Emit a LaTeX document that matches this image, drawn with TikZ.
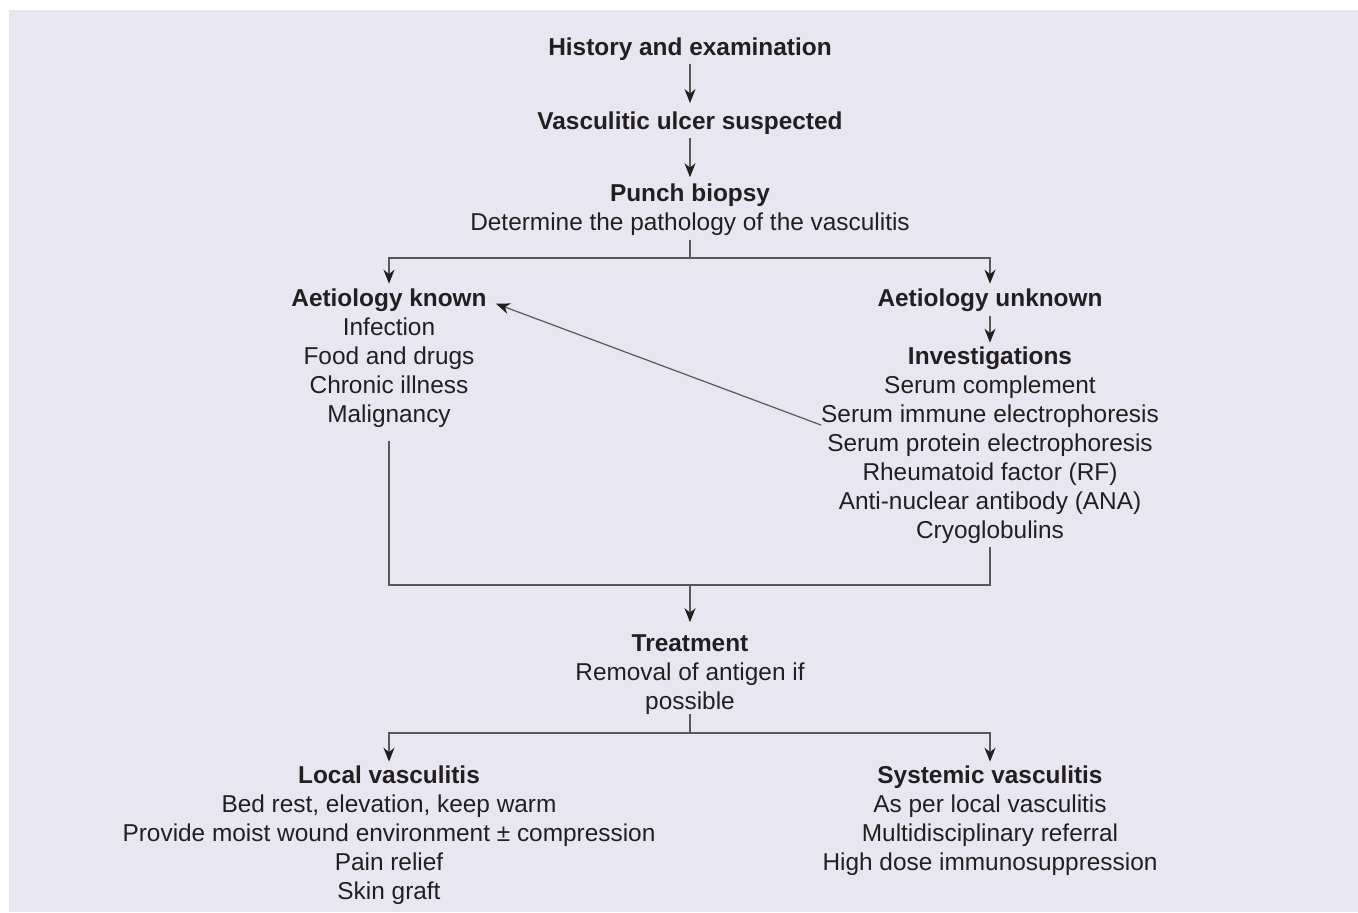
\documentclass[tikz,border=0pt]{standalone}
\usepackage{fontspec}
\setmainfont{Liberation Sans}
\usetikzlibrary{arrows.meta,positioning}

\definecolor{bgpanel}{RGB}{232,230,241}
\definecolor{ink}{RGB}{35,31,32}
\definecolor{wire}{RGB}{88,88,90}

\tikzset{
  txt/.style={inner sep=0pt, outer sep=0pt, align=center, text=ink, anchor=north,
    font=\fontsize{12.2}{14.5}\selectfont,
    execute at begin node=\strut, execute at end node=\strut},
  ttl/.style={txt, font=\fontsize{12.2}{14.5}\selectfont\bfseries},
  wire/.style={draw=wire, line width=0.6pt},
  arr/.style={wire, -{Stealth[length=7pt,width=5.5pt,inset=2.2pt,color=ink]}}
}

\begin{document}
\begin{tikzpicture}[x=0.5pt,y=-0.5pt]
        \useasboundingbox (0,0) rectangle (1358,912);
        \fill[bgpanel] (9,10) rectangle (1358,912);

        % main column
        \node[ttl] (hist) at (690,34.7) {History and examination};
        \node[ttl] (susp) at (690,108.7) {Vasculitic ulcer suspected};
        \node[txt] (biopsy) at (690,184.2)
              {\textbf{Punch biopsy}\\Determine the pathology of the vasculitis};

        % two branches
        \node[ttl] (known) at (389,285.7) {Aetiology known};
        \node[txt] (causes) at (389,317.7)
              {Infection\\Food and drugs\\Chronic illness\\Malignancy};
        \node[ttl] (unknown) at (990,285.7) {Aetiology unknown};
        \node[txt] (invest) at (990,346.7)
              {\textbf{Investigations}\\Serum complement\\Serum immune electrophoresis\\
               Serum protein electrophoresis\\Rheumatoid factor (RF)\\
               Anti-nuclear antibody (ANA)\\Cryoglobulins};

        \node[txt] (treat) at (690,634.2)
              {\textbf{Treatment}\\Removal of antigen if\\possible};
        \node[txt] (local) at (389,765.7)
              {\textbf{Local vasculitis}\\Bed rest, elevation, keep warm\\
               Provide moist wound environment ± compression\\Pain relief\\Skin graft};
        \node[txt] (systemic) at (990,765.7)
              {\textbf{Systemic vasculitis}\\As per local vasculitis\\
               Multidisciplinary referral\\High dose immunosuppression};

        \coordinate (split) at (690,258);
        \coordinate (merge) at (690,585);
        \coordinate (fork) at (690,733);
        \coordinate (crosslink) at (821,425);

        \draw[arr, shorten >=2.8pt] (hist.south) -- (susp.north);
        \draw[arr, shorten >=3.5pt] (susp.south) -- (biopsy.north);

        \draw[wire] (biopsy.south) -- (split);
        \draw[arr, shorten >=1pt] (split) -| (known.north);
        \draw[arr, shorten >=1pt] (split) -| (unknown.north);
        \draw[arr, shorten <=0.5pt, shorten >=2pt] (unknown.south) -- (invest.north);

        \draw[arr, shorten >=5pt] (crosslink) -- (known.east);

        \draw[wire, shorten <=5pt] (causes.south) -- (causes.south |- merge)
              -- (invest.south |- merge) -- (invest.south);
        \draw[arr, shorten >=6pt] (merge) -- (treat.north);

        \draw[wire, shorten <=-2pt] (treat.south) -- (fork);
        \draw[arr, shorten >=2pt] (fork) -| (local.north);
        \draw[arr, shorten >=2pt] (fork) -| (systemic.north);
      \end{tikzpicture}
\end{document}
